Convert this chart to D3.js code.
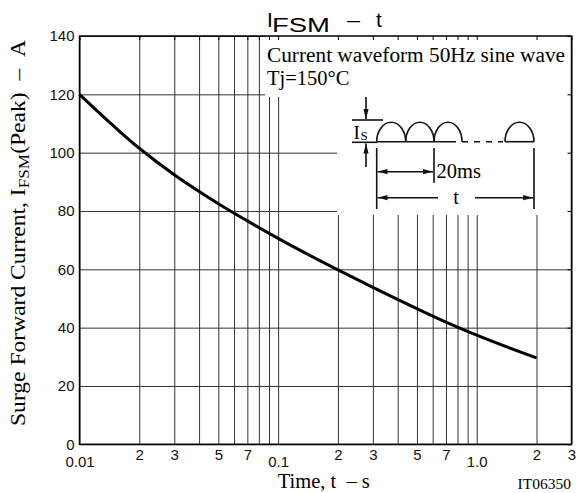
<!DOCTYPE html>
<html>
<head>
<meta charset="utf-8">
<script src="https://cdn.jsdelivr.net/npm/d3@7/dist/d3.min.js"></script>
<style>
  body { margin: 0; background: #fff; }
  svg { display: block; }
  .sans { font-family: "Liberation Sans", Arial, Helvetica, sans-serif; }
  .serif { font-family: "Liberation Serif", "Times New Roman", Times, serif; }
</style>
</head>
<body>
<script>
// Data
//##############################################
var times = [0.01, 0.02, 0.03, 0.05, 0.07, 0.1, 0.2, 0.3, 0.5, 0.7, 1.0, 2.0];
var currents = [120, 101.5, 92.4, 82.5, 76.6, 70.6, 59.8, 53.8, 46.5, 41.9, 37.4, 29.6];

var yTicks = [0, 20, 40, 60, 80, 100, 120, 140];
var majorTicks = [0.01, 0.1, 1.0];
var majorLabels = ["0.01", "0.1", "1.0"];
var minorTicks = [0.02, 0.03, 0.05, 0.07, 0.2, 0.3, 0.5, 0.7, 2, 3];
var minorLabels = ["2", "3", "5", "7", "2", "3", "5", "7", "2", "3"];

var W = 579, H = 493;
var pLeft = 79.5, pRight = 571.5, pTop = 36, pBottom = 444.3;

var x = d3.scaleLog().domain([0.01, 3]).range([pLeft, pRight]);
var y = d3.scaleLinear().domain([0, 140]).range([pBottom, pTop]);

var svg = d3.select("body").append("svg")
  .attr("width", W)
  .attr("height", H);

var defs = svg.append("defs");
defs.append("marker")
  .attr("id", "arrow")
  .attr("markerUnits", "userSpaceOnUse")
  .attr("viewBox", "0 0 10 6")
  .attr("refX", 10)
  .attr("refY", 3)
  .attr("markerWidth", 10)
  .attr("markerHeight", 6)
  .attr("orient", "auto-start-reverse")
  .append("path")
  .attr("d", "M0,0.4L10,3L0,5.6Z")
  .attr("fill", "#111");

// Grid
//##############################################
svg.append("g")
  .attr("transform", "translate(0," + pBottom + ")")
  .call(d3.axisBottom(x).tickValues(x.ticks()).tickSize(-(pBottom - pTop)).tickFormat(""));

svg.append("g")
  .attr("transform", "translate(" + pLeft + ",0)")
  .call(d3.axisLeft(y).tickValues(yTicks).tickSize(-(pRight - pLeft)).tickFormat(""));

svg.selectAll(".domain").remove();
svg.selectAll(".tick line")
  .attr("stroke", "#333")
  .attr("stroke-width", 1);

// white box behind the note and the waveform sketch
svg.append("rect")
  .attr("x", 265).attr("y", pTop)
  .attr("width", pRight - 265).attr("height", 97 - pTop)
  .attr("fill", "#fff");
svg.append("rect")
  .attr("x", 337).attr("y", 96)
  .attr("width", pRight - 337).attr("height", 215 - 96)
  .attr("fill", "#fff");

// small ticks along the top and right border
svg.append("g")
  .attr("transform", "translate(0," + pTop + ")")
  .call(d3.axisTop(x).tickValues(x.ticks()).tickSize(-4).tickFormat(""));
svg.append("g")
  .attr("transform", "translate(" + pRight + ",0)")
  .call(d3.axisRight(y).tickValues(yTicks).tickSize(-4).tickFormat(""));
svg.selectAll(".domain").remove();

// frame
svg.append("rect")
  .attr("x", pLeft).attr("y", pTop)
  .attr("width", pRight - pLeft).attr("height", pBottom - pTop)
  .attr("fill", "none")
  .attr("stroke", "#000")
  .attr("stroke-width", 1.5);

// Curve
//##############################################
var line = d3.line()
  .x(function(d) { return x(d[0]); })
  .y(function(d) { return y(d[1]); })
  .curve(d3.curveMonotoneX);

svg.append("path")
  .datum(d3.zip(times, currents))
  .attr("d", line)
  .attr("fill", "none")
  .attr("stroke", "#000")
  .attr("stroke-width", 3);

// Tick labels
//##############################################
var yLab = svg.append("g")
  .attr("class", "sans")
  .attr("transform", "translate(" + pLeft + ",0)")
  .call(d3.axisLeft(y).tickValues(yTicks).tickSize(0).tickPadding(5));
yLab.select(".domain").remove();
yLab.selectAll("text").attr("font-size", 15).attr("font-family", null).attr("fill", "#111");

var xMinor = svg.append("g")
  .attr("class", "sans")
  .attr("transform", "translate(0," + pBottom + ")")
  .call(d3.axisBottom(x).tickValues(minorTicks).tickSize(0).tickPadding(5)
    .tickFormat(function(d, i) { return minorLabels[i]; }));
xMinor.select(".domain").remove();
xMinor.selectAll("text").attr("font-size", 15).attr("font-family", null).attr("fill", "#111");

var xMajor = svg.append("g")
  .attr("class", "sans")
  .attr("transform", "translate(0," + pBottom + ")")
  .call(d3.axisBottom(x).tickValues(majorTicks).tickSize(0).tickPadding(12)
    .tickFormat(function(d, i) { return majorLabels[i]; }));
xMajor.select(".domain").remove();
xMajor.selectAll("text").attr("font-size", 15).attr("font-family", null).attr("fill", "#111");

// Titles
//##############################################
svg.append("text").attr("class", "sans")
  .attr("x", 267).attr("y", 27).attr("font-size", 21).text("I");
svg.append("text").attr("class", "sans")
  .attr("x", 272).attr("y", 32).attr("font-size", 20)
  .attr("textLength", 58).attr("lengthAdjust", "spacingAndGlyphs").text("FSM");
svg.append("text").attr("class", "sans")
  .attr("x", 347).attr("y", 27).attr("font-size", 21)
  .attr("textLength", 13).attr("lengthAdjust", "spacingAndGlyphs").text("\u2013");
svg.append("text").attr("class", "sans")
  .attr("x", 376).attr("y", 27).attr("font-size", 21).text("t");

svg.append("text").attr("class", "serif")
  .attr("x", 323.8).attr("y", 488)
  .attr("text-anchor", "middle")
  .attr("font-size", 20.5)
  .text("Time, t \u00a0\u2013 s");

svg.append("text").attr("class", "serif")
  .attr("x", 571).attr("y", 489)
  .attr("text-anchor", "end")
  .attr("font-size", 15.5)
  .text("IT06350");

var yTitle = svg.append("text").attr("class", "serif")
  .attr("transform", "translate(25,426) rotate(-90)")
  .attr("font-size", 20.5)
  .attr("textLength", 386)
  .attr("lengthAdjust", "spacingAndGlyphs");
yTitle.append("tspan").text("Surge Forward Current, I");
yTitle.append("tspan").attr("font-size", 15).attr("dy", 4).text("FSM");
yTitle.append("tspan").attr("dy", -4).text("(Peak) \u00a0\u2013 \u00a0A");

// Note and waveform sketch
//##############################################
svg.append("text").attr("class", "serif")
  .attr("x", 267).attr("y", 62).attr("font-size", 20.5)
  .attr("textLength", 298).attr("lengthAdjust", "spacingAndGlyphs")
  .text("Current waveform 50Hz sine wave");
svg.append("text").attr("class", "serif")
  .attr("x", 267).attr("y", 85).attr("font-size", 20.5)
  .text("Tj=150\u00b0C");

var sk = svg.append("g")
  .attr("fill", "none")
  .attr("stroke", "#111")
  .attr("stroke-width", 1.6);

var base = 141.7;
var humps = [[376.7, 405.7], [405.7, 434], [434, 462], [505, 534]];
sk.selectAll("path.hump")
  .data(humps)
  .enter()
  .append("path")
  .attr("class", "hump")
  .attr("d", function(d) {
    var rx = (d[1] - d[0]) / 2;
    return "M" + d[0] + "," + base + "A" + rx + ",19.5 0 0 1 " + d[1] + "," + base;
  });

sk.append("line").attr("x1", 376.7).attr("x2", 456).attr("y1", base).attr("y2", base);
sk.append("line").attr("x1", 462).attr("x2", 503).attr("y1", base).attr("y2", base)
  .attr("stroke-dasharray", "6,6");
sk.append("line").attr("x1", 505).attr("x2", 534).attr("y1", base).attr("y2", base);

// Is marks
sk.append("line").attr("x1", 352).attr("x2", 383).attr("y1", 120).attr("y2", 120);
sk.append("line").attr("x1", 352).attr("x2", 377).attr("y1", 142.3).attr("y2", 142.3);
sk.append("line").attr("x1", 366).attr("x2", 366).attr("y1", 97).attr("y2", 119)
  .attr("marker-end", "url(#arrow)");
sk.append("line").attr("x1", 366).attr("x2", 366).attr("y1", 167).attr("y2", 143.5)
  .attr("marker-end", "url(#arrow)");

svg.append("text").attr("class", "serif")
  .attr("x", 353.5).attr("y", 138.5).attr("font-size", 19).text("I");
svg.append("text").attr("class", "serif")
  .attr("x", 360.5).attr("y", 139.5).attr("font-size", 13).text("S");

// brackets
sk.append("line").attr("x1", 376.7).attr("x2", 376.7).attr("y1", 148).attr("y2", 209);
sk.append("line").attr("x1", 434).attr("x2", 434).attr("y1", 148).attr("y2", 183);
sk.append("line").attr("x1", 534).attr("x2", 534).attr("y1", 148).attr("y2", 209);

sk.append("line").attr("x1", 377.5).attr("x2", 433).attr("y1", 171.7).attr("y2", 171.7)
  .attr("marker-start", "url(#arrow)")
  .attr("marker-end", "url(#arrow)");
svg.append("text").attr("class", "serif")
  .attr("x", 436.5).attr("y", 177.5).attr("font-size", 20.5).text("20ms");

sk.append("line").attr("x1", 438).attr("x2", 377.5).attr("y1", 197.7).attr("y2", 197.7)
  .attr("marker-end", "url(#arrow)");
sk.append("line").attr("x1", 475).attr("x2", 533.2).attr("y1", 197.7).attr("y2", 197.7)
  .attr("marker-end", "url(#arrow)");
svg.append("text").attr("class", "serif")
  .attr("x", 456).attr("y", 203.5).attr("text-anchor", "middle")
  .attr("font-size", 20.5).text("t");
</script>
</body>
</html>
